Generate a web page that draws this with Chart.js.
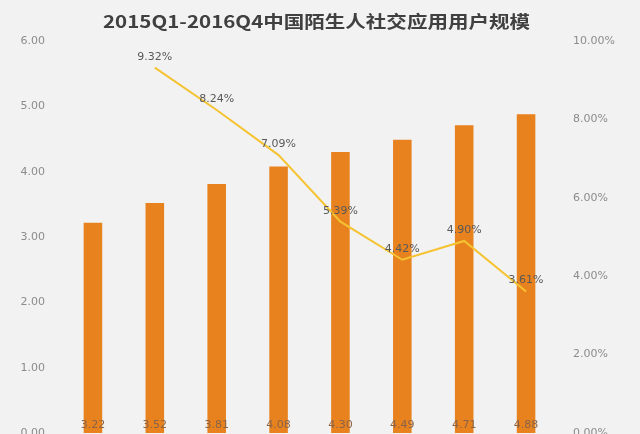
<!DOCTYPE html>
<html>
<head>
<meta charset="utf-8">
<script src="https://cdn.jsdelivr.net/npm/chart.js@4"></script>
<style>
html,body{margin:0;padding:0;background:#f2f2f2;overflow:hidden;}
#wrap{width:640px;height:470px;}
</style>
</head>
<body>
<div id="wrap"><canvas id="c" width="640" height="470"></canvas></div>
<script>
const titleText = '2015Q1-2016Q4中国陌生人社交应用用户规模';
const categories = ['2015Q1','2015Q2','2015Q3','2015Q4','2016Q1','2016Q2','2016Q3','2016Q4'];
const users = [3.22, 3.52, 3.81, 4.08, 4.30, 4.49, 4.71, 4.88];
const growth = [null, 9.32, 8.24, 7.09, 5.39, 4.42, 4.90, 3.61];
const leftTicks = [0, 6, 1];
const rightTicks = [0, 10, 2];

const labelPlugin = {
  id: 'labels',
  beforeDraw(chart) {
    const ctx = chart.ctx;
    ctx.save();
    ctx.font = 'bold 17px "Noto Sans CJK SC", sans-serif';
    ctx.fillStyle = '#404040';
    ctx.textBaseline = 'middle';
    ctx.textAlign = 'left';
    const w = ctx.measureText(titleText).width;
    const target = 427;
    const sx = target / w;
    ctx.translate(103, 22);
    ctx.scale(sx, 1);
    ctx.fillText(titleText, 0, 0);
    ctx.restore();
  },
  afterDatasetsDraw(chart) {
    const ctx = chart.ctx;
    ctx.save();
    ctx.textAlign = 'center';
    ctx.textBaseline = 'middle';
    ctx.font = '11px "DejaVu Sans", sans-serif';
    const barMeta = chart.getDatasetMeta(0);
    barMeta.data.forEach((el, i) => {
      ctx.fillStyle = '#8a6448';
      ctx.fillText(users[i].toFixed(2), el.x, 425);
    });
    const lineMeta = chart.getDatasetMeta(1);
    lineMeta.data.forEach((el, i) => {
      if (growth[i] == null) return;
      ctx.fillStyle = '#595959';
      ctx.fillText(growth[i].toFixed(2) + '%', el.x, el.y - 11);
    });
    ctx.restore();
  }
};

new Chart(document.getElementById('c'), {
  data: {
    labels: categories,
    datasets: [
      {
        type: 'bar',
        data: users,
        yAxisID: 'y',
        backgroundColor: '#E8821E',
        barPercentage: 0.3,
        categoryPercentage: 1,
        order: 2
      },
      {
        type: 'line',
        data: growth,
        yAxisID: 'y1',
        borderColor: '#F5C332',
        borderWidth: 2,
        pointRadius: 0,
        tension: 0,
        spanGaps: false,
        order: 1
      }
    ]
  },
  options: {
    responsive: false,
    devicePixelRatio: 1,
    animation: false,
    layout: { padding: { top: 41, bottom: 37, left: 0, right: 0 } },
    plugins: { legend: { display: false }, title: { display: false }, tooltip: { enabled: false } },
    scales: {
      x: { display: false, offset: true },
      y: {
        position: 'left',
        min: leftTicks[0], max: leftTicks[1],
        ticks: { stepSize: leftTicks[2], padding: 17, color: '#8c8c8c', font: { family: 'DejaVu Sans', size: 11 }, callback: v => v.toFixed(2) },
        grid: { display: false, drawTicks: false },
        border: { display: false },
        afterFit(s) { s.width = 62; }
      },
      y1: {
        position: 'right',
        min: rightTicks[0], max: rightTicks[1],
        ticks: { stepSize: rightTicks[2], padding: 16, color: '#8c8c8c', font: { family: 'DejaVu Sans', size: 11 }, callback: v => v.toFixed(2) + '%' },
        grid: { display: false, drawTicks: false },
        border: { display: false },
        afterFit(s) { s.width = 83; }
      }
    }
  },
  plugins: [labelPlugin]
});
</script>
</body>
</html>
